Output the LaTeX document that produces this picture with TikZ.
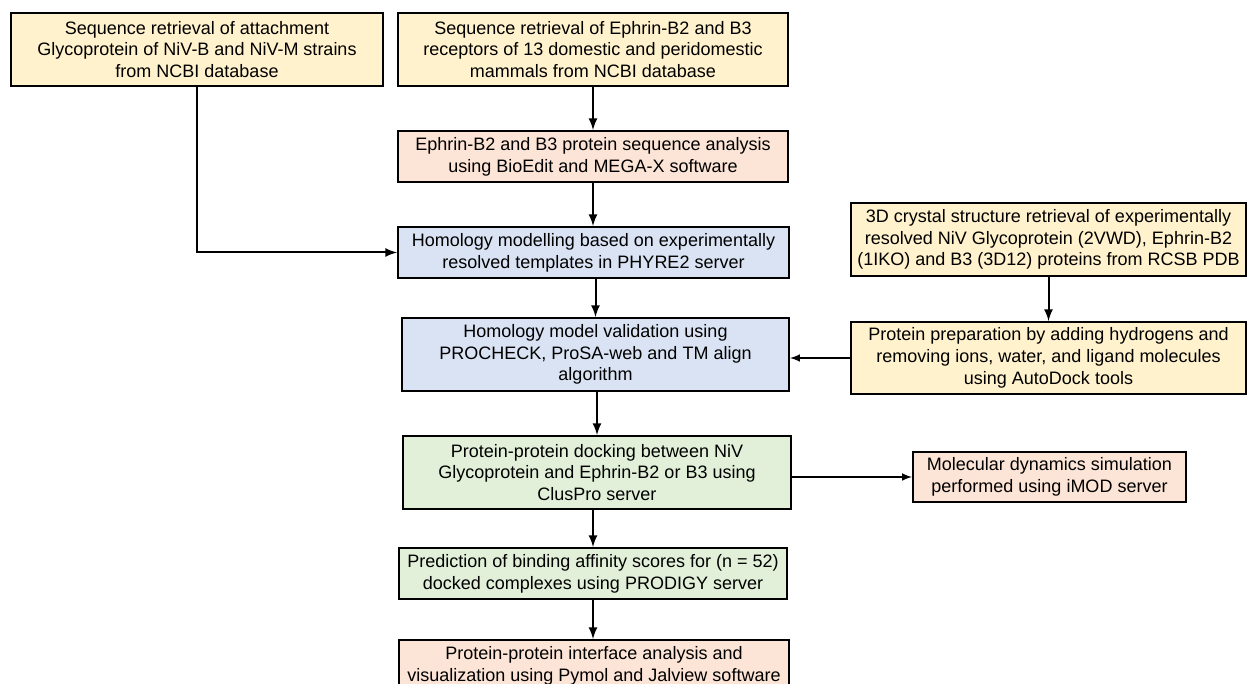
\documentclass[tikz,border=0pt]{standalone}
\usepackage{fontspec}
\setmainfont{Liberation Sans}
\usepackage{tikz}
\definecolor{boxyellow}{RGB}{255,242,204}
\definecolor{boxpink}{RGB}{252,228,214}
\definecolor{boxblue}{RGB}{218,227,243}
\definecolor{boxgreen}{RGB}{226,240,217}

\begin{document}
\begin{tikzpicture}[x=0.5pt, y=-0.5pt,
  box/.style={rectangle, draw, line width=1pt, align=center, inner sep=0pt, font=\fontsize{9}{10.85}\selectfont},
  yellowbox/.style={box, fill=boxyellow},
  pinkbox/.style={box, fill=boxpink},
  bluebox/.style={box, fill=boxblue},
  greenbox/.style={box, fill=boxgreen},
  arr/.style={line width=1pt, -latex},
  thinarr/.style={line width=0.7pt, -latex}]
  \clip (0,0) rectangle (1248,684);
  % Retrieval boxes (top row)
  \node[yellowbox, minimum width=186pt, minimum height=36.5pt] (seqG) at (197,49.5)
    {Sequence retrieval of attachment\\Glycoprotein of NiV-B and NiV-M strains\\from NCBI database};
  \node[yellowbox, minimum width=195pt, minimum height=36.5pt] (seqE) at (593,49.5)
    {Sequence retrieval of Ephrin-B2 and B3\\receptors of 13 domestic and peridomestic\\mammals from NCBI database};
  % Main column
  \node[pinkbox, minimum width=195pt, minimum height=25.5pt] (anal) at (593,156.5)
    {Ephrin-B2 and B3 protein sequence analysis\\using BioEdit and MEGA-X software};
  \node[bluebox, minimum width=195.5pt, minimum height=25.5pt] (model) at (593.5,252.5)
    {Homology modelling based on experimentally\\resolved templates in PHYRE2 server};
  \node[bluebox, minimum width=193.5pt, minimum height=36.5pt] (valid) at (595.5,354.5)
    {Homology model validation using\\PROCHECK, ProSA-web and TM align\\algorithm};
  \node[greenbox, minimum width=194pt, minimum height=36.5pt] (dock) at (597,472.5)
    {Protein-protein docking between NiV\\Glycoprotein and Ephrin-B2 or B3 using\\ClusPro server};
  \node[greenbox, minimum width=194pt, minimum height=25.5pt] (pred) at (593,573.5)
    {Prediction of binding affinity scores for (n = 52)\\docked complexes using PRODIGY server};
  \node[pinkbox, minimum width=195pt, minimum height=25.5pt] (inter) at (594,665.5)
    {Protein-protein interface analysis and\\visualization using Pymol and Jalview software};
  % Right column
  \node[yellowbox, minimum width=197.5pt, minimum height=36.5pt] (crystal) at (1048.5,239.5)
    {3D crystal structure retrieval of experimentally\\resolved NiV Glycoprotein (2VWD), Ephrin-B2\\(1IKO) and B3 (3D12) proteins from RCSB PDB};
  \node[yellowbox, minimum width=197.5pt, minimum height=36pt] (prep) at (1048.5,358)
    {Protein preparation by adding hydrogens and\\removing ions, water, and ligand molecules\\using AutoDock tools};
  \node[pinkbox, minimum width=136.5pt, minimum height=25pt] (md) at (1049.5,477)
    {Molecular dynamics simulation\\performed using iMOD server};
  % Arrows
  \draw[arr] (seqG.south) |- (model.west);
  \draw[arr] (seqE) -- (anal);
  \draw[arr] (anal.south) -- (anal.south |- model.north);
  \draw[arr] (valid.north |- model.south) -- (valid.north);
  \draw[arr] (dock.north |- valid.south) -- (dock.north);
  \draw[arr] (pred.north |- dock.south) -- (pred.north);
  \draw[arr] (pred.south) -- (pred.south |- inter.north);
  \draw[arr] (crystal) -- (prep);
  \draw[thinarr] (prep.west) -- (prep.west -| valid.east);
  \draw[thinarr] (md.west -| dock.east) -- (md.west);
\end{tikzpicture}
\end{document}
